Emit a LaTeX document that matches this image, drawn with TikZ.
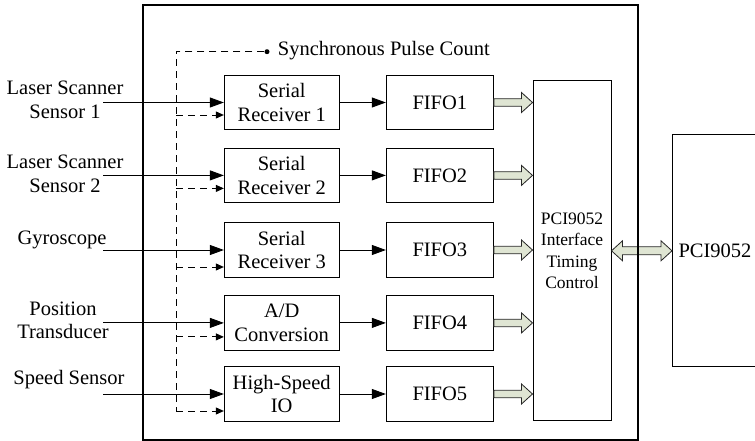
\documentclass[tikz,border=0pt]{standalone}
\usepackage{fontspec}
\setmainfont{Liberation Serif}
\usetikzlibrary{arrows.meta, calc, positioning}
\definecolor{busfill}{HTML}{DFE5D3}
\tikzset{
  blk/.style = {draw=black, line width=1pt, align=center, inner sep=0pt,
    font=\fontsize{20.5}{23.5}\selectfont},
  rx/.style = {blk, minimum width=114.7pt, minimum height=54.5pt},
  fifo/.style = {blk, minimum width=107pt, minimum height=54.5pt},
  lbl/.style = {align=center, inner sep=0pt,
    font=\fontsize{20.5}{23.5}\selectfont},
  sig/.style = {line width=0.9pt, -{Triangle[length=14pt,width=10pt]}},
  syncline/.style = {line width=0.9pt, dash pattern=on 7pt off 5pt},
  synctip/.style = {syncline, -{Triangle[length=8pt,width=7pt]}},
  bus/.style = {draw=black!85, fill=busfill, line width=0.8pt, line join=miter}
}
% wide bus arrow, tip at #2
\newcommand{\busarrow}[2]{%
  \draw[bus] ($(#1)+(0,3.75)$) -- ($(#2)+(-11,3.75)$) -- ($(#2)+(-11,10)$)
    -- (#2) -- ($(#2)+(-11,-10)$) -- ($(#2)+(-11,-3.75)$)
    -- ($(#1)+(0,-3.75)$) -- cycle;}
% wide bus arrow, tips at both ends
\newcommand{\dblbusarrow}[2]{%
  \draw[bus] (#1) -- ($(#1)+(11,10)$) -- ($(#1)+(11,4)$) -- ($(#2)+(-11,4)$)
    -- ($(#2)+(-11,10)$) -- (#2) -- ($(#2)+(-11,-10)$) -- ($(#2)+(-11,-4)$)
    -- ($(#1)+(11,-4)$) -- ($(#1)+(11,-10)$) -- cycle;}

\begin{document}
\begin{tikzpicture}[x=1pt, y=-1pt]
\useasboundingbox (0,0) rectangle (755,441);

% receivers
\node [rx] (r1) at (281.7,102.5) {Serial\\Receiver 1};
\node [rx] (r2) at (281.7,175.4) {Serial\\Receiver 2};
\node [rx] (r3) at (281.7,250) {Serial\\Receiver 3};
\node [rx] (ad) at (281.7,322.9) {A/D\\Conversion};
\node [rx] (hs) at (281.7,394) {High-Speed\\IO};

% fifos
\foreach \n [count=\i] in {r1, r2, r3, ad, hs}
  \node [fifo, right=46.3pt of \n] (f\i) {FIFO\i};

\node [blk, minimum width=78pt, minimum height=340pt,
  font=\fontsize{17.5}{21.5}\selectfont] (ctl) at (572,250.7)
  {PCI9052\\Interface\\Timing\\Control};
\node [blk, anchor=west, minimum height=231.7pt, text width=100pt,
  align=left, inner xsep=6pt] (pci) at (672,250.8) {PCI9052};

% sensor labels
\node [lbl] (lbl1) at (65,100) {Laser Scanner\\Sensor 1};
\node [lbl] (lbl2) at (65,174) {Laser Scanner\\Sensor 2};
\node [lbl] (lbl3) at (62,240) {Gyroscope};
\node [lbl] (lbl4) at (63,320.5) {Position\\Transducer};
\node [lbl] (lbl5) at (69,380) {Speed Sensor};

\coordinate (inx) at (103,0);
\coordinate (busx) at (176,0);

\foreach \n [count=\i] in {r1, r2, r3, ad, hs} {
  \draw [sig] (inx |- \n.west) -- (\n.west);
  \draw [sig] (\n.east) -- (f\i.west);
}

% sync pulse
\node [circle, fill=black, inner sep=0pt, minimum size=5pt] (dot) at (267,51.7) {};
\node [lbl, right=8pt of dot, yshift=1.5pt] (synclbl) {Synchronous Pulse Count};
\draw [syncline] (dot) -| ($(busx |- hs.west)+(0,17)$);
\foreach \n/\dy in {r1/12.5, r2/13, r3/17, ad/14, hs/17}
  \draw [synctip] ($(busx |- \n.west)+(0,\dy)$) -- ($(\n.west)+(0,\dy)$);

% buses
\foreach \i in {1,...,5} {
  \coordinate (t\i) at (ctl.west |- f\i.east);
  \busarrow{f\i.east}{t\i}
}
\coordinate (pl) at (ctl.east |- pci.west);
\dblbusarrow{pl}{pci.west}

% board outline
\draw [line width=1.1pt] (143,5) rectangle (638,440);
\end{tikzpicture}
\end{document}
